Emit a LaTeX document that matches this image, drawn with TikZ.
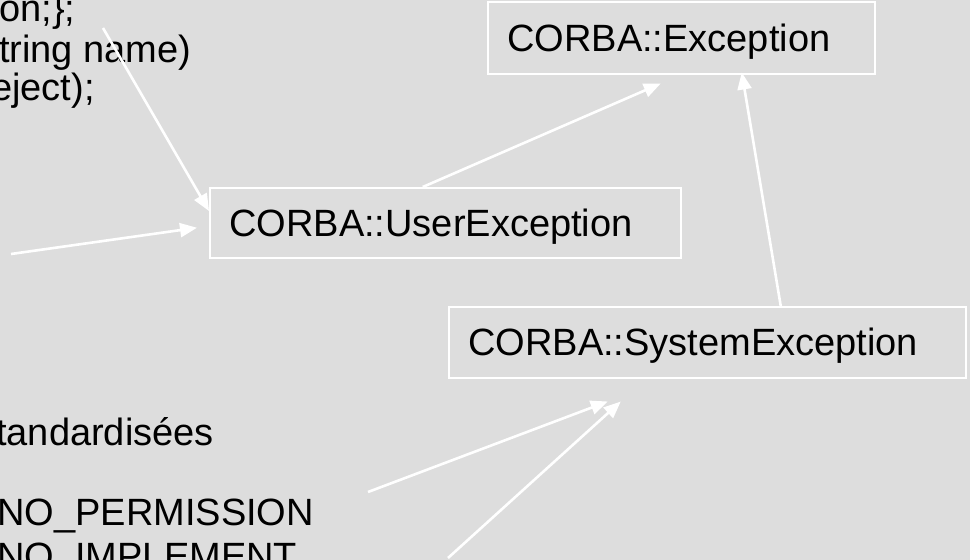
\documentclass[tikz,border=0pt]{standalone}
\usepackage{fontspec}
\setmainfont{Liberation Sans}
\usetikzlibrary{arrows.meta}
\definecolor{slide}{HTML}{DDDDDD}
\begin{document}
\begin{tikzpicture}[x=1pt,y=-1pt,
  classbox/.style={draw=white, line width=1.5pt, anchor=north west,
    inner xsep=19.5pt, inner ysep=0pt, align=left,
    font=\fontsize{38}{44}\selectfont, text height=27pt, text depth=0pt},
  inherit/.style={draw=white, line width=2.6pt,
    -{Triangle[length=17pt,width=14pt]}},
  code/.style={anchor=base west, inner sep=0pt,
    font=\fontsize{38}{44}\selectfont}]
\useasboundingbox (0,0) rectangle (970,560);
\fill[slide] (0,0) rectangle (970,560);
\clip (0,0) rectangle (970,560);

% IDL / C++ fragments on the left
\node[code] (l1) at (-1,21)  {on;\};};
\node[code] (l2) at (-1,62)  {tring name)};
\node[code] (l3) at (-9,100) {eject);};
\node[code] (l4) at (-4,445) {tandardisées};
\node[code] (l5) at (-3,525) {NO\_PERMISSION};
\node[code] (l6) at (-3,569) {NO\_IMPLEMENT};

% exception classes
\node[classbox, minimum width=387pt, minimum height=72pt, text width=348pt]
  (exc) at (487,1) {CORBA::Exception};
\node[classbox, minimum width=471pt, minimum height=70pt, text width=432pt]
  (user) at (209,187) {CORBA::UserException};
\node[classbox, minimum width=517pt, minimum height=71pt, text width=478pt]
  (sys) at (448,306) {CORBA::SystemException};

% free ends of the incoming arrows
\coordinate (a1) at (103,28);
\coordinate (a2) at (11,254);
\coordinate (a5) at (368,492);
\coordinate (a6) at (448,558);

% inheritance arrows
\draw[inherit] (a1) -- ([yshift=-24pt]user.north west);
\draw[inherit] (a2) -- ([xshift=-12pt,yshift=-5pt]user.west);
\draw[inherit] ([xshift=-22.5pt]user.north) -- ([xshift=-20.5pt,yshift=-9pt]exc.south);
\draw[inherit] ([xshift=73.5pt]sys.north) -- ([xshift=60.5pt,yshift=2pt]exc.south);
\draw[inherit] (a5) -- ([xshift=-99.5pt,yshift=-23pt]sys.south);
\draw[inherit] (a6) -- ([xshift=-86.5pt,yshift=-23pt]sys.south);
\end{tikzpicture}
\end{document}
